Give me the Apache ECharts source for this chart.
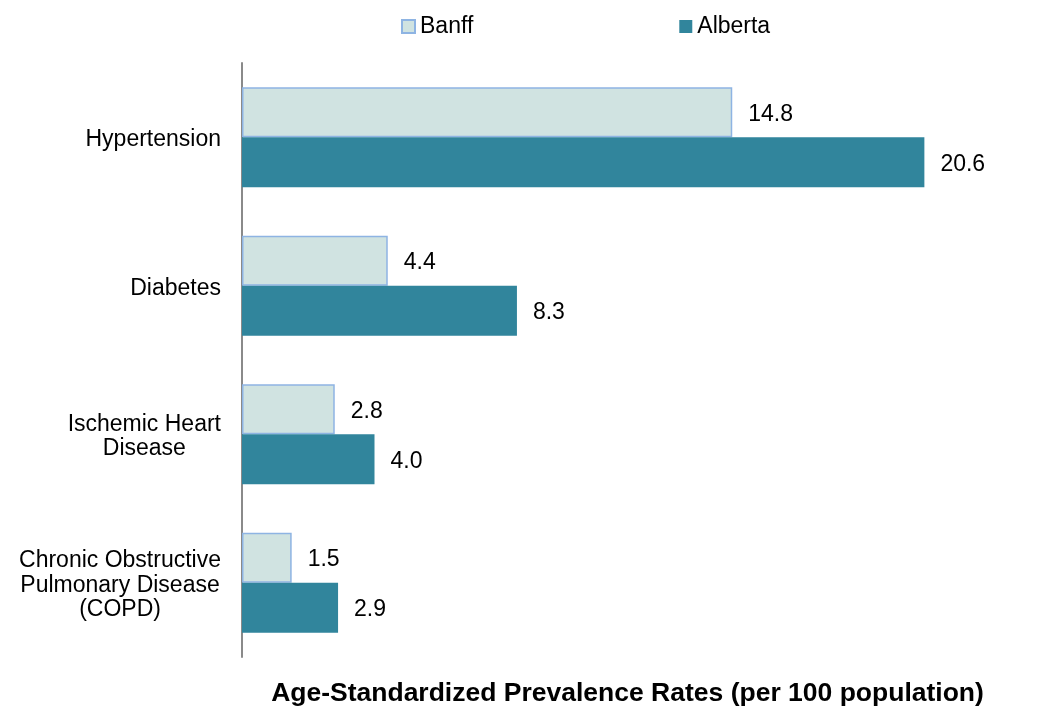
<!DOCTYPE html>
<html>
<head>
<meta charset="utf-8">
<script src="https://cdn.jsdelivr.net/npm/echarts@6/dist/echarts.min.js"></script>
<style>
html,body{margin:0;padding:0;background:#fff;}
#chart{width:1055px;height:707px;}
</style>
</head>
<body>
<div id="chart"></div>
<script>
const categories = ['Hypertension', 'Diabetes', 'Ischemic Heart\nDisease', 'Chronic Obstructive\nPulmonary Disease\n(COPD)'];
const banff = [14.8, 4.4, 2.8, 1.5];
const alberta = [20.6, 8.3, 4.0, 2.9];
const seriesNames = ['Banff', 'Alberta'];
const axisTitle = 'Age-Standardized Prevalence Rates (per 100 population)';

const FONT = '"Liberation Sans", Arial, sans-serif';
const chart = echarts.init(document.getElementById('chart'), null, {renderer: 'canvas'});

const labelStyle = {
  show: true,
  position: 'right',
  distance: 16,
  offset: [0, 2],
  color: '#000',
  fontSize: 23,
  fontFamily: FONT,
  formatter: p => p.value.toFixed(1)
};

chart.setOption({
  animation: false,
  textStyle: {fontFamily: FONT},
  legend: {
    left: 396,
    top: 10,
    itemWidth: 13,
    itemHeight: 13,
    itemGap: 206,
    icon: 'rect',
    textStyle: {fontSize: 23, color: '#000', fontFamily: FONT},
    data: seriesNames
  },
  grid: {left: 242, top: 63, bottom: 50, right: 18, containLabel: false, outerBoundsMode: 'none'},
  xAxis: {
    type: 'value',
    min: 0,
    max: 24,
    axisLine: {show: false},
    axisTick: {show: false},
    axisLabel: {show: false},
    splitLine: {show: false},
    name: axisTitle,
    nameLocation: 'middle',
    nameGap: 23,
    nameTextStyle: {fontSize: 26.5, fontWeight: 'bold', color: '#000', fontFamily: FONT, padding: [0, 24, 0, 0]}
  },
  yAxis: {
    type: 'category',
    inverse: true,
    data: categories,
    axisLine: {show: true, lineStyle: {color: '#8a8a8a', width: 2}},
    axisTick: {show: false},
    axisLabel: {
      margin: 21,
      align: 'right',
      padding: [5, 0, 0, 0],
      formatter: v => v.split('\n').map(l => '{c|' + l + '}').join('\n'),
      rich: {c: {align: 'center', fontSize: 23, lineHeight: 24.5, color: '#000', fontFamily: FONT}}
    }
  },
  series: [
    {
      name: seriesNames[0],
      type: 'bar',
      data: banff,
      barCategoryGap: '32.5%',
      barGap: '0%',
      itemStyle: {color: '#D0E3E1', borderColor: '#8EB4E3', borderWidth: 1.5},
      label: labelStyle
    },
    {
      name: seriesNames[1],
      type: 'bar',
      data: alberta,
      barCategoryGap: '32.5%',
      barGap: '0%',
      itemStyle: {color: '#31859C'},
      label: labelStyle
    }
  ]
});
</script>
</body>
</html>
